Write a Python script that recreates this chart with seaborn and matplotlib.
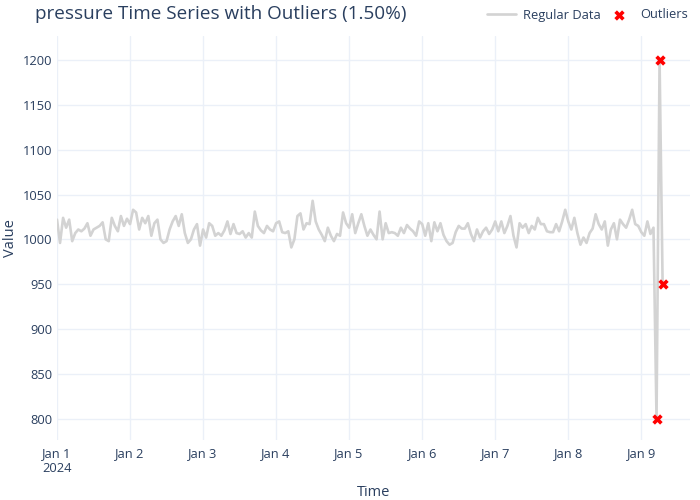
import matplotlib
matplotlib.use("Agg")
import matplotlib.pyplot as plt
import pandas as pd
import seaborn as sns

# Hourly readings
start = "2024-01-01 00:00"
pressure = [
    1022, 996, 1024, 1013, 1022, 998, 1007, 1011, 1009, 1012,
    1018, 1004, 1011, 1013, 1015, 1019, 1000, 998, 1024, 1015,
    1009, 1026, 1015, 1023, 1017, 1033, 1030, 1011, 1024, 1018,
    1026, 1004, 1018, 1022, 1000, 996, 998, 1011, 1020, 1026,
    1015, 1028, 1007, 996, 1000, 1011, 1017, 993, 1011, 1002,
    1018, 1015, 1004, 1007, 1004, 1010, 1020, 1006, 1017, 1007,
    1006, 1009, 1002, 1007, 1002, 1031, 1015, 1010, 1007, 1015,
    1011, 1009, 1018, 1020, 1008, 1007, 1009, 991, 1000, 1026,
    1029, 1011, 1018, 1017, 1043, 1020, 1011, 1005, 998, 1013,
    1004, 998, 1006, 1004, 1030, 1018, 1013, 1028, 1007, 1018,
    1028, 1015, 1004, 1011, 1005, 1000, 1031, 1000, 1018, 1007,
    1008, 1007, 1004, 1013, 1007, 1016, 1012, 1009, 1004, 1020,
    1017, 1004, 1018, 998, 1019, 1009, 1018, 1005, 998, 994,
    996, 1008, 1015, 1012, 1012, 1018, 1006, 998, 1011, 1002,
    1009, 1013, 1006, 1011, 1020, 1009, 1020, 1007, 1015, 1026,
    1004, 991, 1018, 1013, 1017, 1007, 1015, 1011, 1024, 1017,
    1017, 1009, 1008, 1008, 1017, 1009, 1020, 1033, 1020, 1011,
    1024, 1007, 994, 1002, 996, 1007, 1012, 1028, 1017, 1011,
    1020, 993, 1011, 1018, 1000, 1022, 1017, 1013, 1022, 1033,
    1017, 1015, 1008, 1004, 1020, 1006, 1013, 800, 1200, 950,
]
outlier_idx = [197, 198, 199]
day_ticks = pd.date_range("2024-01-01", "2024-01-09", freq="D")
day_labels = ["Jan 1\n2024", "Jan 2", "Jan 3", "Jan 4", "Jan 5",
              "Jan 6", "Jan 7", "Jan 8", "Jan 9"]
y_ticks = [800, 850, 900, 950, 1000, 1050, 1100, 1150, 1200]

times = pd.date_range(start, periods=len(pressure), freq="h")
df = pd.DataFrame({"Time": times, "Value": pressure})
outliers = df.iloc[outlier_idx]

sns.set_theme(style="white")
plt.rcParams["font.family"] = ["Open Sans", "DejaVu Sans"]
text_color = "#2a3f5f"
grid_color = "#EBF0F8"

fig = plt.figure(figsize=(7, 5), dpi=100)
ax = fig.add_axes([57 / 700, 60 / 500, 633 / 700, 404 / 500])

sns.lineplot(data=df, x="Time", y="Value", ax=ax, color="lightgray",
             linewidth=1.9, label="Regular Data")
sns.scatterplot(data=outliers, x="Time", y="Value", ax=ax, color="red",
                marker="X", s=55, linewidth=0, label="Outliers", zorder=3)

ax.set_xlim(pd.Timestamp(start), pd.Timestamp(start) + pd.Timedelta(hours=208))
ax.set_ylim(776, 1227)
ax.set_xticks(day_ticks)
ax.set_xticklabels(day_labels)
ax.set_yticks(y_ticks)

ax.grid(True, color=grid_color, linewidth=1)
ax.set_axisbelow(True)
for s in ax.spines.values():
    s.set_visible(False)
ax.tick_params(axis="both", length=0, labelsize=9.3, labelcolor=text_color)
ax.tick_params(axis="x", pad=5)
ax.tick_params(axis="y", pad=3)

ax.set_xlabel("Time", fontsize=10.5, color=text_color)
ax.set_ylabel("Value", fontsize=10.5, color=text_color)
ax.xaxis.set_label_coords(0.5, (440 - 492) / 404)
ax.xaxis.label.set_va("center")
ax.yaxis.set_label_coords((10 - 57) / 633, 0.5)
ax.yaxis.label.set_va("center")

handles, labels = ax.get_legend_handles_labels()
ax.get_legend().remove()
fig.legend(handles, labels, loc="center right", bbox_to_anchor=(1.0, 1 - 15 / 500),
           ncol=2, frameon=False, fontsize=9.3, handlelength=2.3,
           columnspacing=0.3, handletextpad=0.5, labelcolor=text_color)

fig.text(35 / 700, 1 - 14 / 500, "pressure Time Series with Outliers (1.50%)",
         fontsize=13.6, color=text_color, va="center", ha="left")

fig.savefig("out.png", dpi=100)
